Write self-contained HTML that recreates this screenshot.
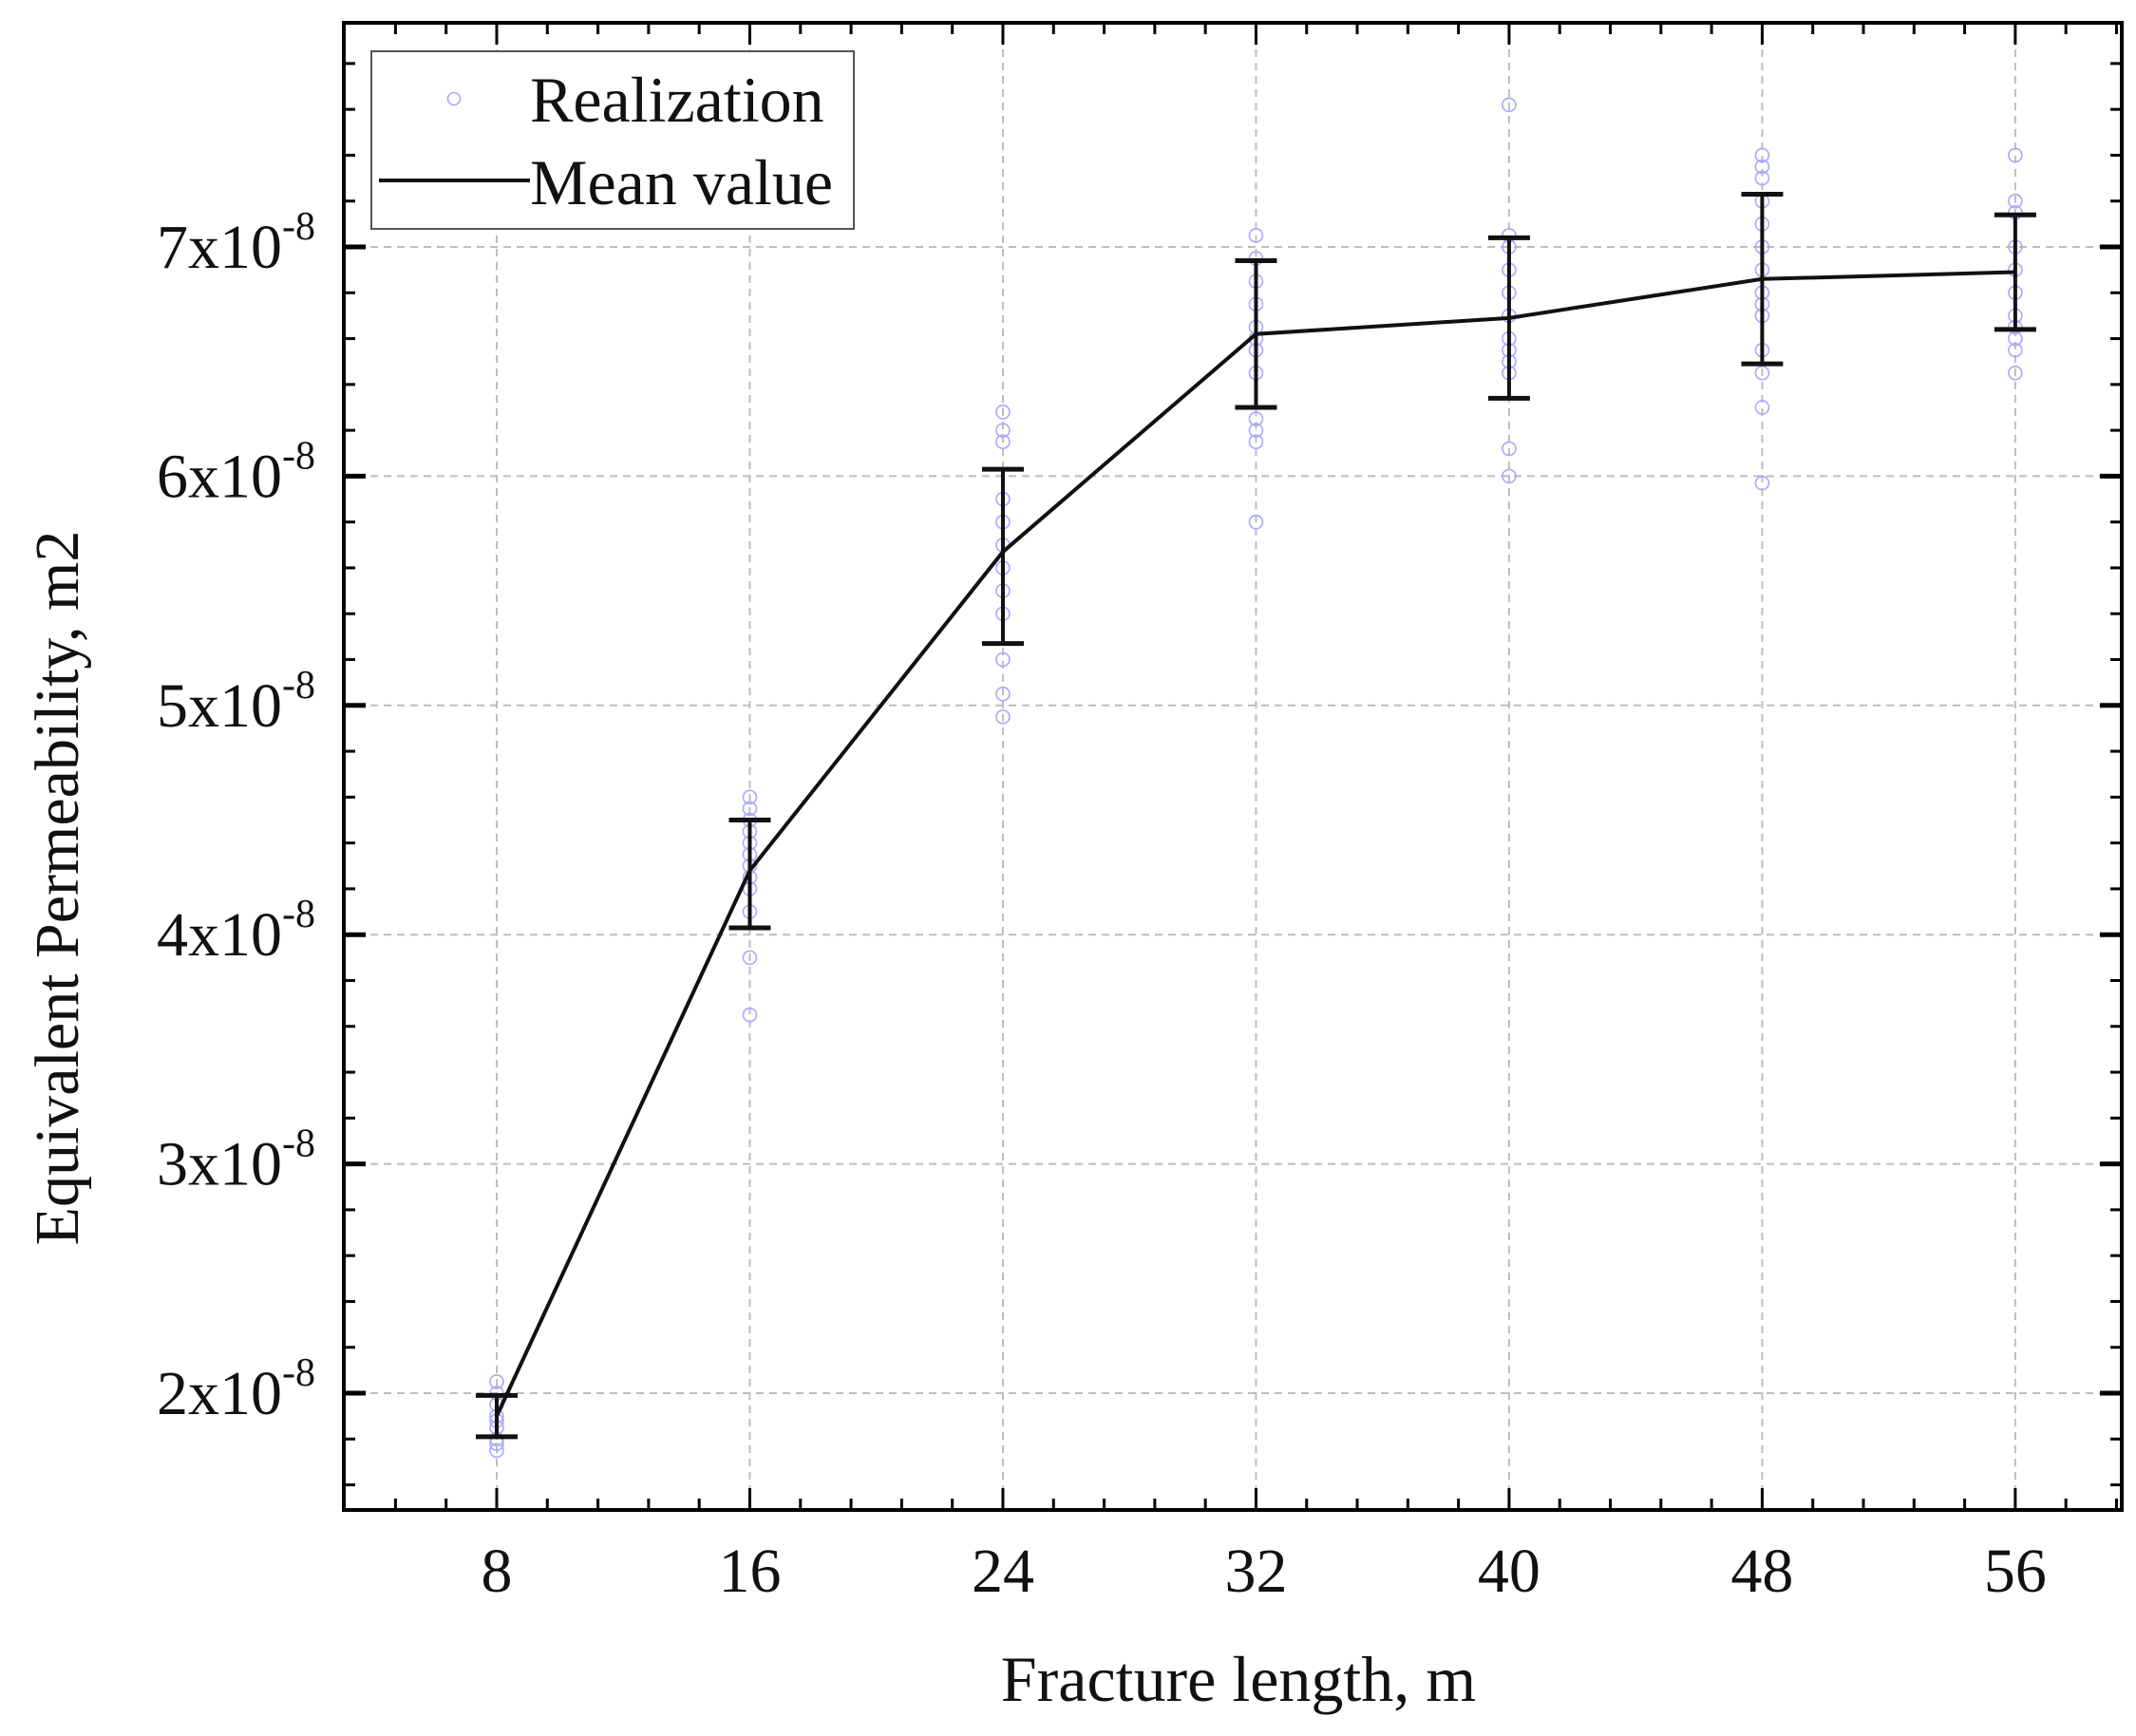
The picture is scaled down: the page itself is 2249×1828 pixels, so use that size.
<!DOCTYPE html>
<html><head><meta charset="utf-8"><style>
html,body{margin:0;padding:0;background:#fff;}
svg{display:block;}
text{font-family:"Liberation Serif",serif;fill:#111;}
</style></head><body>
<svg id="s" width="2249" height="1828" viewBox="0 0 2249 1828" xmlns="http://www.w3.org/2000/svg">
<rect width="2249" height="1828" fill="#fff"/>
<g id="grid"></g>
<g id="pts"></g>
<g id="ticks"></g>
<rect x="362" y="24" width="1872" height="1566" fill="none" stroke="#000" stroke-width="4"/>
<g id="labels"></g>
<text x="1304" y="1791" font-size="68" text-anchor="middle">Fracture length, m</text>
<text transform="translate(82,935) rotate(-90)" font-size="66" text-anchor="middle">Equivalent Permeability, m2</text>
<rect x="391" y="54" width="508" height="187" fill="#fff" stroke="#555" stroke-width="2"/>
<circle cx="478" cy="104" r="6.5" fill="none" stroke="#a8a8ff" stroke-width="1.6"/>
<text x="558" y="128" font-size="68">Realization</text>
<line x1="399" y1="190" x2="558" y2="190" stroke="#111" stroke-width="4"/>
<text x="558" y="215" font-size="68">Mean value</text>
</svg>
<script>
const NS="http://www.w3.org/2000/svg";
const X=L=>523+(L-8)*33.31, Y=v=>1467-(v-2)*241.4;
function el(p,t,a){const e=document.createElementNS(NS,t);for(const k in a)e.setAttribute(k,a[k]);document.getElementById(p).appendChild(e);return e;}
for(let v=2;v<=7;v++)el("grid","line",{x1:362,x2:2234,y1:Y(v),y2:Y(v),stroke:"#bdbdbd","stroke-width":2,"stroke-dasharray":"8 6"});
for(let L=8;L<=56;L+=8)el("grid","line",{x1:X(L),x2:X(L),y1:24,y2:1590,stroke:"#bdbdbd","stroke-width":2,"stroke-dasharray":"8 6"});
for(let k=-3;k<=33;k++){const L=8+k*1.6;const x=X(L);if(x<=366||x>=2230)continue;const maj=(k%5===0);const len=maj?23:12;
el("ticks","line",{x1:x,x2:x,y1:1590,y2:1590-len,stroke:"#000","stroke-width":3});
el("ticks","line",{x1:x,x2:x,y1:24,y2:24+len,stroke:"#000","stroke-width":3});}
for(let k=-3;k<=30;k++){const v=2+k*0.2;const y=Y(v);if(y>=1586||y<=28)continue;const maj=(k%5===0);const len=maj?23:12;
el("ticks","line",{x1:362,x2:362+len,y1:y,y2:y,stroke:"#000","stroke-width":maj?5:3});
el("ticks","line",{x1:2234,x2:2234-len,y1:y,y2:y,stroke:"#000","stroke-width":maj?5:3});}
for(let L=8;L<=56;L+=8){const t=el("labels","text",{x:X(L),y:1676,"font-size":66,"text-anchor":"middle"});t.textContent=L;}
for(let v=2;v<=7;v++){const t=el("labels","text",{x:332,y:Y(v)+22,"font-size":66,"text-anchor":"end"});
t.innerHTML=v+'x10<tspan dy="-30" font-size="42">-8</tspan>';}
const R={8:[1.75,1.8,1.85,1.9,1.95,2.0,2.05,1.78,1.88],
16:[3.65,3.9,4.1,4.2,4.3,4.35,4.4,4.45,4.5,4.55,4.6,4.25],
24:[4.95,5.05,5.2,5.4,5.6,5.7,5.8,5.9,6.15,6.2,6.28,5.5],
32:[5.8,6.15,6.2,6.25,6.45,6.55,6.65,6.75,6.85,6.95,7.05,6.6],
40:[6.0,6.12,6.45,6.55,6.6,6.7,6.8,6.9,7.0,7.05,7.62,6.5],
48:[5.97,6.3,6.45,6.55,6.75,6.8,6.9,7.0,7.1,7.2,7.3,7.35,7.4,6.7],
56:[6.45,6.55,6.6,6.7,6.8,6.9,7.0,7.15,7.2,7.4,6.65]};
for(const L in R)for(const v of R[L])el("pts","circle",{cx:X(+L),cy:Y(v),r:7,fill:"none",stroke:"#a8a8ff","stroke-width":1.6});
const M=[[8,1.9,1.81,1.99],[16,4.28,4.03,4.50],[24,5.67,5.27,6.03],[32,6.62,6.30,6.94],[40,6.69,6.34,7.04],[48,6.86,6.49,7.23],[56,6.89,6.64,7.14]];
el("pts","polyline",{points:M.map(m=>X(m[0])+","+Y(m[1])).join(" "),fill:"none",stroke:"#111","stroke-width":4});
for(const m of M){const x=X(m[0]);
el("pts","line",{x1:x,x2:x,y1:Y(m[2]),y2:Y(m[3]),stroke:"#111","stroke-width":4});
for(const v of [m[2],m[3]])el("pts","line",{x1:x-22,x2:x+22,y1:Y(v),y2:Y(v),stroke:"#111","stroke-width":5});}
</script>
</body></html>
